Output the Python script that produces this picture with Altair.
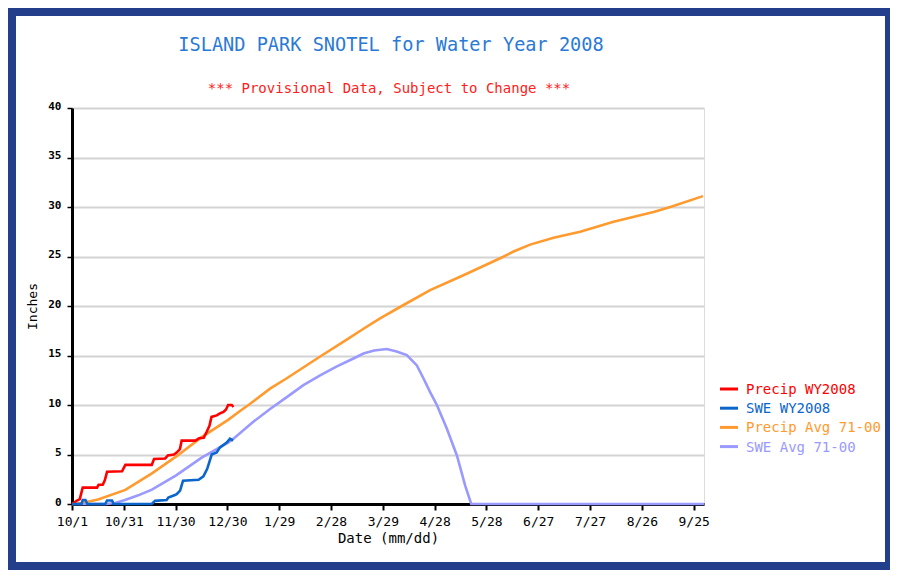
import json
import altair as alt
import pandas as pd

# ---------------- data ----------------
series_names = ["Precip WY2008", "SWE WY2008", "Precip Avg 71-00", "SWE Avg 71-00"]
series_colors = ["#ff0000", "#0b66cc", "#ff9a2e", "#9999ff"]

title_text = "ISLAND PARK SNOTEL for Water Year 2008"
subtitle_text = "*** Provisional Data, Subject to Change ***"

# days since 10/1
tick_days = [0, 30, 60, 90, 120, 150, 180, 210, 240, 270, 300, 330, 360]
tick_labels = ["10/1", "10/31", "11/30", "12/30", "1/29", "2/28", "3/29",
               "4/28", "5/28", "6/27", "7/27", "8/26", "9/25"]
y_ticks = [0, 5, 10, 15, 20, 25, 30, 35, 40]

precip_wy_day = [0, 2.9, 4.5, 6.2, 14.5, 15.4, 17.8, 19, 20.3, 29, 30.9, 46.2, 47.5, 54,
                 55.5, 59, 60.6, 62.5, 63.5, 71.5, 73.6, 76.3, 78, 79.6, 80.8, 83.8, 85.7,
                 87.7, 89.2, 90.4, 92.5, 93.5]
precip_wy_val = [0, 0.35, 0.5, 1.65, 1.65, 1.95, 1.95, 2.4, 3.25, 3.3, 3.95, 3.95, 4.55, 4.6,
                 4.9, 5.0, 5.2, 5.55, 6.4, 6.4, 6.65, 6.7, 7.3, 7.9, 8.8, 8.95, 9.15,
                 9.3, 9.55, 10.0, 10.0, 9.8]

swe_wy_day = [0, 5.5, 6.2, 7.8, 8.9, 19.3, 20.3, 23.2, 24.1, 46.2, 48.1, 54.8, 55.8, 59.6,
              60.6, 62.6, 64.3, 73.3, 76.1, 78.3, 80.9, 83.8, 85.7, 89.6, 91.5, 93.3]
swe_wy_val = [0, 0, 0.4, 0.4, 0, 0, 0.35, 0.35, 0, 0, 0.32, 0.4, 0.65, 0.9,
              1.0, 1.35, 2.35, 2.45, 2.8, 3.55, 5.0, 5.2, 5.72, 6.2, 6.6, 6.4]

precip_avg_day = [0, 5.8, 15.1, 30.9, 46.3, 60.6, 75.1, 90.4, 97.3, 103, 114.7, 124.4,
                  143.7, 159.1, 168.8, 178.4, 191, 207.4, 226.7, 249.5, 255.7, 265.3,
                  278.9, 294.3, 313.6, 336.8, 346.5, 365.4]
precip_avg_val = [0, 0.1, 0.45, 1.42, 3.1, 4.83, 6.75, 8.5, 9.4, 10.1, 11.65, 12.7,
                  14.9, 16.6, 17.7, 18.75, 20.0, 21.6, 23.1, 24.95, 25.5, 26.2,
                  26.9, 27.5, 28.5, 29.5, 30.0, 31.1]

swe_avg_day = [0, 20, 25, 30.7, 38, 46.3, 60.3, 75.1, 90.4, 93.5, 105, 114.7, 124.4, 134,
               143.7, 153.4, 163, 168.8, 175, 182.3, 188, 193.9, 199.7, 203.5, 207.4,
               211.3, 217.1, 222.9, 227.7, 231.2, 366]
swe_avg_val = [0, 0, 0.1, 0.4, 0.85, 1.45, 2.9, 4.68, 6.2, 6.6, 8.3, 9.6, 10.8, 12.0,
               13.0, 13.9, 14.7, 15.2, 15.5, 15.65, 15.4, 15.05, 14.0, 12.7, 11.3,
               10.0, 7.6, 4.9, 1.85, 0, 0]

series_days = [precip_wy_day, swe_wy_day, precip_avg_day, swe_avg_day]
series_vals = [precip_wy_val, swe_wy_val, precip_avg_val, swe_avg_val]

# ---------------- chart ----------------
MONO = "DejaVu Sans Mono"
label_js = json.dumps(tick_labels).replace('"', "'")

x_enc = alt.X(
    "day:Q",
    scale=alt.Scale(domain=[0, 366], nice=False, zero=False),
    axis=alt.Axis(
        values=tick_days,
        labelExpr=f"{label_js}[round(datum.value / 30)]",
        title="Date (mm/dd)",
        titleFont=MONO, titleFontSize=14, titleFontWeight="normal", titleColor="black",
        titlePadding=3,
        labelFont=MONO, labelFontSize=13, labelColor="black", labelPadding=5,
        labelFlush=False, labelOverlap=False,
        tickSize=6, tickWidth=2, tickColor="black",
        domainColor="black", domainWidth=3, grid=False,
    ),
)
y_enc = alt.Y(
    "inches:Q",
    scale=alt.Scale(domain=[0, 40], nice=False),
    axis=alt.Axis(
        values=y_ticks,
        title="Inches",
        titleFont=MONO, titleFontSize=13, titleFontWeight="normal", titleColor="black",
        titlePadding=8,
        labelFont=MONO, labelFontSize=11, labelFontWeight="bold", labelColor="black",
        labelPadding=6, labelOffset=-2,
        tickSize=5, tickWidth=1.5, tickColor="black",
        domainColor="black", domainWidth=3,
        grid=True, gridColor="#d3d3d3", gridWidth=2,
    ),
)

# frame
frame = alt.Chart(pd.DataFrame({"k": [0]})).mark_rect(
    fillOpacity=0, stroke="#233f8c", strokeWidth=8
).encode(x=alt.value(-60), x2=alt.value(817), y=alt.value(-96), y2=alt.value(458))

layers = [frame]

# titles as text marks
layers.append(
    alt.Chart(pd.DataFrame({"t": [title_text]})).mark_text(
        align="center", baseline="alphabetic", font=MONO, fontSize=18.6, color="#2a7ad5"
    ).encode(x=alt.value(319), y=alt.value(-57), text="t:N")
)
layers.append(
    alt.Chart(pd.DataFrame({"t": [subtitle_text]})).mark_text(
        align="center", baseline="alphabetic", font=MONO, fontSize=14, color="#ff2020"
    ).encode(x=alt.value(317), y=alt.value(-15), text="t:N")
)

draw_order = [2, 3, 0, 1]
for i in draw_order:
    df = pd.DataFrame({"day": series_days[i], "inches": series_vals[i]})
    layers.append(
        alt.Chart(df).mark_line(color=series_colors[i], strokeWidth=2.6, interpolate="linear")
        .encode(x=x_enc, y=y_enc)
    )

# manual legend (coloured labels)
for i, (name, col) in enumerate(zip(series_names, series_colors)):
    ly = 281 + i * 19.2
    ldf = pd.DataFrame({"label": [name]})
    layers.append(
        alt.Chart(ldf).mark_rule(color=col, strokeWidth=3)
        .encode(x=alt.value(648), x2=alt.value(666), y=alt.value(ly))
    )
    layers.append(
        alt.Chart(ldf).mark_text(align="left", baseline="middle", font=MONO,
                                 fontSize=14, color=col)
        .encode(x=alt.value(674), y=alt.value(ly + 1), text="label:N")
    )

chart = alt.layer(*layers).properties(
    width=632,
    height=396,
    padding={"left": 64, "top": 100, "right": 186, "bottom": 66},
    autosize=alt.AutoSizeParams(type="none"),
).configure_view(stroke="#222222", strokeWidth=2).configure(background="white")

chart.save("out.html", embed_options={"renderer": "svg", "actions": False})
